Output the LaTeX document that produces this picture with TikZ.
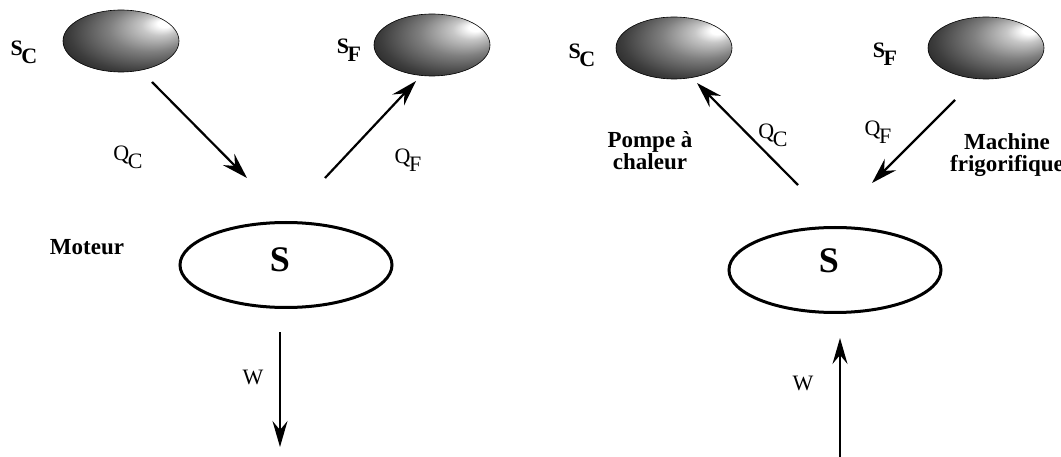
\documentclass[tikz,border=0pt]{standalone}
\usepackage{fontspec}
\setmainfont{Liberation Serif}
\usetikzlibrary{arrows.meta,shapes.geometric}
\pgfdeclareradialshading{reservoirshade}{\pgfpoint{20bp}{15bp}}{color(0bp)=(white); color(3bp)=(white); color(8bp)=(black!22); color(18bp)=(black!50); color(30bp)=(black!76); color(40bp)=(black!92); color(50bp)=(black)}
\newcommand{\idx}[1]{\kern-1.5pt\raisebox{-0.36em}{#1}}

\begin{document}
\begin{tikzpicture}[
  x=1pt, y=-1pt,
  reservoir/.style={ellipse, draw=black, line width=0.6pt, shading=reservoirshade,
    minimum width=116pt, minimum height=62pt, inner sep=0pt},
  system/.style={ellipse, draw=black, line width=3pt, minimum width=212pt, minimum height=85pt},
  bigS/.style={font=\fontsize{36}{40}\selectfont\bfseries, inner sep=0pt},
  srclabel/.style={font=\fontsize{22}{24}\selectfont\bfseries, inner sep=0pt},
  tag/.style={font=\fontsize{23}{22}\selectfont\bfseries, align=center, inner sep=0pt},
  flux/.style={font=\fontsize{22}{24}\selectfont, inner sep=0pt},
  heat/.style={-{Stealth[length=26pt, width=16pt, inset=9pt]}, line width=2.2pt},
  work/.style={-{Stealth[length=26pt, width=15pt, inset=9pt]}, line width=1.6pt}
]
\useasboundingbox (0,0) rectangle (1061,457);

\node[reservoir] (scL) at (121,41) {};
\node[reservoir] (sfL) at (432,45) {};
\node[srclabel] (scLlab) at (24,52) {S\idx{C}};
\node[srclabel] (sfLlab) at (349,50) {S\idx{F}};
\node[system] (sysL) at (286,265) {};
\node[bigS] (sysLlab) at (280,260) {S};
\node[tag] (moteur) at (87,247) {Moteur};
\node[flux] (qcLlab) at (128,157) {Q\idx{C}};
\node[flux] (qfLlab) at (408,160) {Q\idx{F}};
\node[flux] (wLlab) at (253,377) {W};
\coordinate (qcLa) at (152,82);
\coordinate (qcLb) at (247,178);
\coordinate (qfLa) at (325,178);
\coordinate (qfLb) at (416,81);
\coordinate (wLa) at (280,332);
\coordinate (wLb) at (280,447);
\draw[heat] (qcLa) -- (qcLb);
\draw[heat] (qfLa) -- (qfLb);
\draw[work] (wLa) -- (wLb);

\node[reservoir] (scR) at (674,48) {};
\node[reservoir] (sfR) at (986,48) {};
\node[srclabel] (scRlab) at (582,55) {S\idx{C}};
\node[srclabel] (sfRlab) at (885,54) {S\idx{F}};
\node[system] (sysR) at (835,270) {};
\node[bigS] (sysRlab) at (829,261) {S};
\node[tag] (pompe) at (650,151) {Pompe à\\chaleur};
\node[tag] (frigo) at (1007,155) {Machine\\frigorifique};
\node[flux] (qcRlab) at (773,135) {Q\idx{C}};
\node[flux] (qfRlab) at (878,132) {Q\idx{F}};
\node[flux] (wRlab) at (803,383) {W};
\coordinate (qcRa) at (798,185);
\coordinate (qcRb) at (697,83);
\coordinate (qfRa) at (955,100);
\coordinate (qfRb) at (872,183);
\coordinate (wRa) at (840,457);
\coordinate (wRb) at (840,338);
\draw[heat] (qcRa) -- (qcRb);
\draw[heat] (qfRa) -- (qfRb);
\draw[work] (wRa) -- (wRb);
\end{tikzpicture}
\end{document}
